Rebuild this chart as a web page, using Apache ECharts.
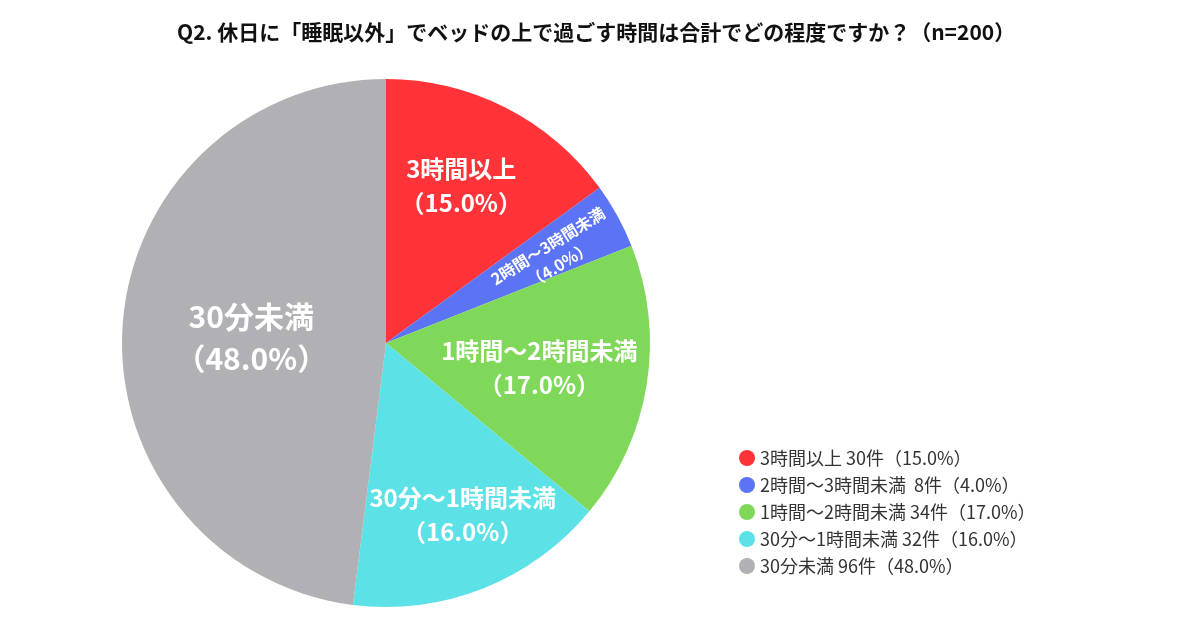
<!DOCTYPE html>
<html>
<head>
<meta charset="utf-8">
<script src="https://cdn.jsdelivr.net/npm/echarts@6/dist/echarts.min.js"></script>
<style>
  html, body { margin: 0; padding: 0; background: #fff; }
  #main { width: 1200px; height: 624px; }
</style>
</head>
<body>
<div id="main"></div>
<script>
const categories = ['3時間以上', '2時間〜3時間未満', '1時間〜2時間未満', '30分〜1時間未満', '30分未満'];
const counts = [30, 8, 34, 32, 96];
const colors = ['#ff3338', '#5b73f5', '#80d85b', '#5ce1e6', '#b1b0b4'];
const total = 200;

// label tweaks per slice (the rotated one is shifted in its own frame)
const labelFont = [24, 16, 24, 24, 30];
const labelShift = [[14, -37], [54, 7], [20, 4], [27, 46], [0, 3]];

const chart = echarts.init(document.getElementById('main'));

const fontFamily = '"Noto Sans CJK JP", "Noto Sans", sans-serif';

chart.setOption({
  title: {
    text: 'Q2. 休日に「睡眠以外」でベッドの上で過ごす時間は合計でどの程度ですか？（n=200）',
    left: 172,
    top: 17,
    textStyle: { fontSize: 21, fontWeight: 'bold', color: '#111', fontFamily: fontFamily }
  },
  legend: {
    orient: 'vertical',
    left: 734,
    top: 444,
    icon: 'circle',
    itemWidth: 16,
    itemHeight: 16,
    itemGap: 9,
    textStyle: { fontSize: 18, color: '#333', fontFamily: fontFamily },
    formatter: function (name) {
      const i = categories.indexOf(name);
      const pct = (counts[i] / total * 100).toFixed(1);
      return name + (counts[i] < 10 ? '  ' : ' ') + counts[i] + '件（' + pct + '%）';
    }
  },
  series: [{
    type: 'pie',
    center: [386, 343],
    radius: 264,
    startAngle: 90,
    clockwise: true,
    animation: false,
    label: {
      show: true,
      position: 'inside',
      color: '#fff',
      fontWeight: 'bold',
      fontFamily: fontFamily,
      formatter: function (p) {
        return p.name + '\n（' + p.percent.toFixed(1) + '%）';
      }
    },
    labelLayout: function (params) {
      const s = labelShift[params.dataIndex];
      return { dx: s[0], dy: s[1] };
    },
    data: categories.map(function (name, i) {
      return {
        name: name,
        value: counts[i],
        itemStyle: { color: colors[i] },
        label: {
          fontSize: labelFont[i],
          lineHeight: Math.round(labelFont[i] * 1.4),
          rotate: i === 1 ? 32 : 0
        }
      };
    })
  }]
});
</script>
</body>
</html>
